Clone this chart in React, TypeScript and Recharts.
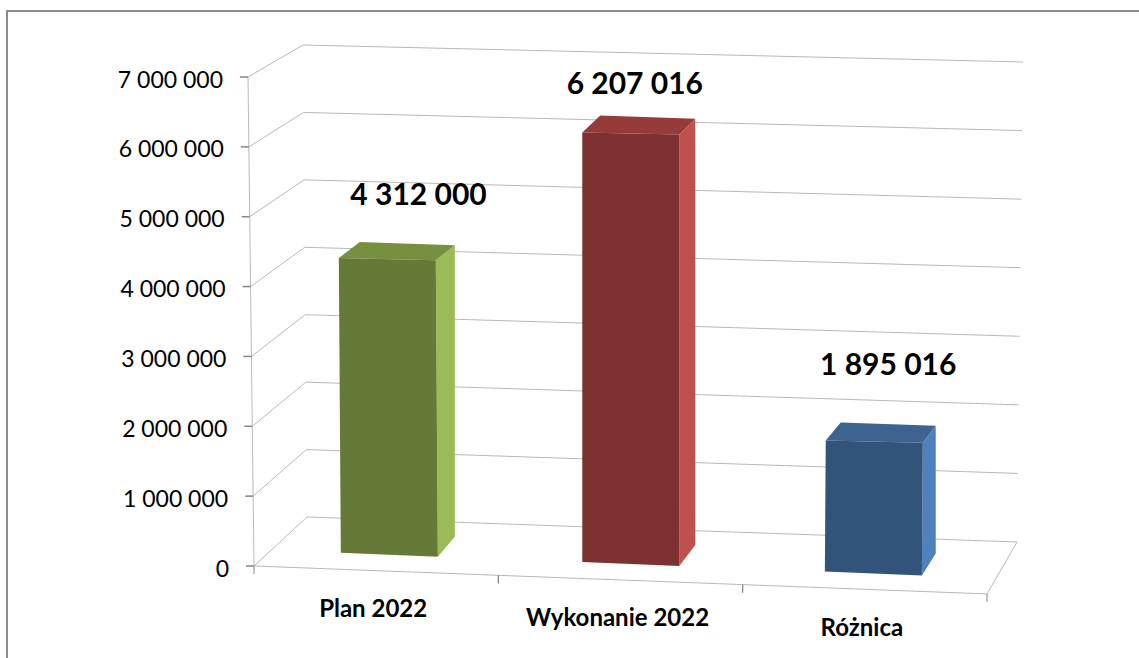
import React from "react";
import { BarChart, Bar, XAxis, YAxis, CartesianGrid, LabelList } from "recharts";

const categories = ["Plan 2022", "Wykonanie 2022", "Różnica"];
const values = [4312000, 6207016, 1895016];
const yTicks = [0, 1000000, 2000000, 3000000, 4000000, 5000000, 6000000, 7000000];

const frontColors = ["#667a37", "#7d3231", "#32537a"];
const sideColors = ["#9bbb59", "#c0504d", "#4f81bd"];
const topColors = ["#779040", "#953b39", "#3d6391"];

const labelNudgeX = [42, 14, 23];
const labelNudgeY = [-60, -38, -59];
const tickLabelNudgeY = [0, 0, 1];

const W = 1139;
const H = 658;
const TOP = 77;
const BOTTOM = 566;
const LEFT = 254;
const RIGHT = 987;
const SPAN = BOTTOM - TOP;
const BAND = (RIGHT - LEFT) / categories.length;
const FONT = "Lato, 'Open Sans', sans-serif";
const GRID = "#b8b8b8";
const TICK = "#868686";

const data = categories.map((name, i) => ({ name, value: values[i] }));
const fmt = (v: number) => String(v).replace(/\B(?=(\d{3})+(?!\d))/g, " ");

// Oblique projection of the value scale onto the three planes of the 3-D box
const rise = (y: number) => (BOTTOM - y) / SPAN;
const frontX = (y: number) => LEFT - 6 * rise(y);
const backLeft = (y: number) => ({ x: 307 - 4 * rise(y), y: 517 - 472 * rise(y) });
const backRight = (y: number) => ({ x: 1017 + 6 * rise(y), y: 542 - 480 * rise(y) });
const axisY = (x: number) => BOTTOM + (x - LEFT) * 0.0381;

const gridLine = (p: any) => {
  const y = p.y1;
  const bl = backLeft(y);
  const br = backRight(y);
  const isFloor = Math.abs(y - BOTTOM) < 0.5;
  const isTop = Math.abs(y - TOP) < 0.5;
  return (
    <g key={p.key ?? y}>
      <polyline points={`${frontX(y)},${y} ${bl.x},${bl.y} ${br.x},${br.y}`} fill="none" stroke={GRID} strokeWidth={1} />
      {isFloor && (
        <polyline points={`${br.x},${br.y} ${RIGHT},${axisY(RIGHT)}`} fill="none" stroke={GRID} strokeWidth={1} />
      )}
      {isTop && <line x1={frontX(TOP)} y1={TOP} x2={frontX(BOTTOM)} y2={BOTTOM} stroke={GRID} strokeWidth={1} />}
    </g>
  );
};

const YTick = (p: any) => {
  const y = p.y;
  const x = frontX(y);
  return (
    <g>
      <line x1={x - 8} y1={y} x2={x} y2={y} stroke={TICK} strokeWidth={1.5} />
      <text x={x - 25} y={y + 10.5} textAnchor="end" fontFamily={FONT} fontSize={23} fill="#000">
        {fmt(p.payload.value)}
      </text>
    </g>
  );
};

const XTick = (p: any) => {
  const cx = p.x;
  const a = cx - BAND / 2;
  const b = cx + BAND / 2;
  const i = p.index;
  return (
    <g>
      <line x1={a} y1={axisY(a)} x2={b} y2={axisY(b)} stroke={GRID} strokeWidth={1} />
      <line x1={a} y1={axisY(a)} x2={a} y2={axisY(a) + 8} stroke={TICK} strokeWidth={1} />
      <line x1={b} y1={axisY(b)} x2={b} y2={axisY(b) + 8} stroke={TICK} strokeWidth={1} />
      <text x={cx - 3} y={axisY(cx) + 46 + tickLabelNudgeY[i]} textAnchor="middle" fontFamily={FONT} fontWeight={700} fontSize={24} fill="#000">
        {p.payload.value}
      </text>
    </g>
  );
};

const Box = (p: any) => {
  const { x, y, width: w, height: h, index: i } = p;
  const left = x + 10.8 - (x - 328) * 0.0035;
  const mid = left + w / 2;
  const lean = h * (0.0067 - (x - 328) * 0.0000275);
  const yTop = y + (mid - 630) * 0.028;
  const yBase = y + h - 2 + (mid - 630) * 0.0385;
  const tl = { x: left, y: yTop };
  const tr = { x: left + w, y: yTop + 2.2 };
  const bl = { x: left + lean, y: yBase - 2 };
  const br = { x: left + w + lean, y: yBase + 2 };
  const d = left - 340;
  const dx = 19 - d * 0.0124;
  const dyT = -15 - d * 0.004;
  const dyB = -20 - d * 0.004;
  const pts = (a: any[]) => a.map((q) => `${q.x},${q.y}`).join(" ");
  return (
    <g>
      <polygon points={pts([tr, { x: tr.x + dx, y: tr.y + dyT }, { x: br.x + dx - lean, y: br.y + dyB }, br])} fill={sideColors[i]} />
      <polygon points={pts([tl, tr, { x: tr.x + dx, y: tr.y + dyT }, { x: tl.x + dx + 2, y: tl.y + dyT - 1 }])} fill={topColors[i]} />
      <polygon points={pts([tl, tr, br, bl])} fill={frontColors[i]} />
    </g>
  );
};

const ValueLabel = (p: any) => {
  const { x, y, width, index, value } = p;
  return (
    <text x={x + width / 2 + labelNudgeX[index]} y={y + labelNudgeY[index]} textAnchor="middle" fontFamily={FONT} fontWeight={700} fontSize={30} fill="#000">
      {fmt(value)}
    </text>
  );
};

export default function App() {
  return (
    <div style={{ position: "absolute", left: 0, top: 0, width: W, height: H, overflow: "hidden", background: "#fff" }}>
      <div style={{ position: "absolute", left: 6, top: 10, right: 0, bottom: 0, borderLeft: "2px solid #8c8c8c", borderTop: "2px solid #8c8c8c" }} />
      <BarChart
        width={W}
        height={H}
        data={data}
        margin={{ top: TOP, right: W - RIGHT, bottom: 0, left: 0 }}
        barCategoryGap={0}
        style={{ position: "absolute", left: 0, top: 0 }}
      >
        <CartesianGrid vertical={false} horizontal={gridLine} />
        <XAxis dataKey="name" height={H - BOTTOM} axisLine={false} tickLine={false} interval={0} tick={XTick} />
        <YAxis width={LEFT} domain={[0, 7000000]} ticks={yTicks} axisLine={false} tickLine={false} tick={YTick} />
        <Bar dataKey="value" barSize={97} shape={Box} isAnimationActive={false}>
          <LabelList dataKey="value" content={ValueLabel} />
        </Bar>
      </BarChart>
    </div>
  );
}
